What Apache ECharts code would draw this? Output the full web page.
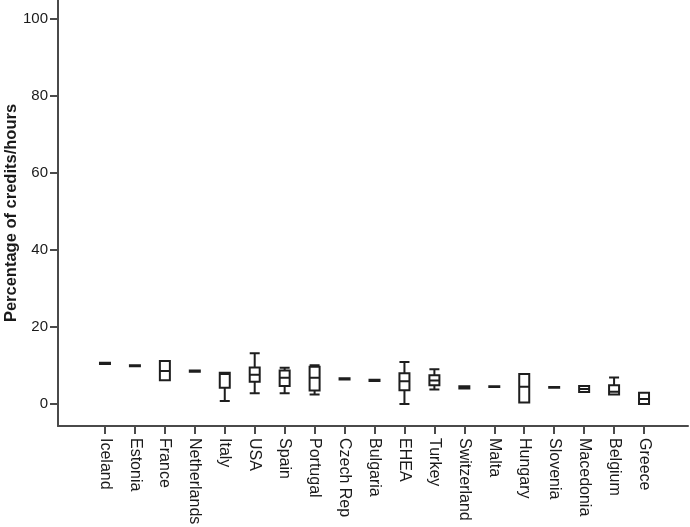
<!DOCTYPE html>
<html>
<head>
<meta charset="utf-8">
<script src="https://cdn.jsdelivr.net/npm/echarts@6/dist/echarts.min.js"></script>
<style>
  html, body { margin: 0; padding: 0; background: #fff; }
  #chart { width: 690px; height: 527px; }
</style>
</head>
<body>
<div id="chart"></div>
<script>
// Static data
const categories = ["Iceland", "Estonia", "France", "Netherlands", "Italy", "USA", "Spain",
  "Portugal", "Czech Rep", "Bulgaria", "EHEA", "Turkey", "Switzerland", "Malta",
  "Hungary", "Slovenia", "Macedonia", "Belgium", "Greece"];
const mins    = [10.4, 9.8, 6.2, 8.4, 0.8, 2.8, 2.8, 2.5, 6.4, 6.0, 0.0, 3.8, 4.0, 4.4, 0.4, 4.2, 3.1, 2.5, 0.0];
const q1s     = [10.4, 9.8, 6.2, 8.4, 4.2, 5.8, 4.7, 3.5, 6.4, 6.0, 3.6, 4.9, 4.0, 4.4, 0.4, 4.2, 3.1, 2.5, 0.0];
const medians = [10.6, 10.0, 8.6, 8.5, 7.8, 7.6, 6.8, 6.8, 6.5, 6.1, 5.9, 6.1, 4.3, 4.5, 4.5, 4.3, 3.9, 3.2, 1.3];
const q3s     = [10.7, 10.1, 11.2, 8.7, 8.1, 9.5, 8.7, 9.7, 6.7, 6.3, 8.0, 7.5, 4.6, 4.6, 7.8, 4.4, 4.7, 4.9, 2.9];
const maxs    = [10.7, 10.1, 11.2, 8.7, 8.1, 13.2, 9.4, 10.1, 6.7, 6.3, 10.9, 9.0, 4.6, 4.6, 7.8, 4.4, 4.7, 6.9, 2.9];
const yTicks  = [0, 20, 40, 60, 80, 100];

const boxData = categories.map((c, i) => [mins[i], q1s[i], medians[i], q3s[i], maxs[i]]);

const axisColor = "#4a4a4a";
const textColor = "#1a1a1a";
const font = "'Liberation Sans', Arial, sans-serif";
const yMin = -5.71;
const yMax = 104.94;

const chart = echarts.init(document.getElementById("chart"));

const option = {
  animation: false,
  textStyle: { fontFamily: font },
  grid: [
    // frame grid: carries the long axis lines and the y scale
    { left: 58, right: 2, top: 0, bottom: 101, outerBoundsMode: "none" },
    // plot grid: the category band for the boxes
    { left: 90, width: 569, top: 0, bottom: 101, outerBoundsMode: "none" },
  ],
  xAxis: [
    {
      gridIndex: 0,
      type: "value",
      min: 0,
      max: 1,
      axisLine: { show: true, onZero: false, lineStyle: { color: axisColor, width: 2 } },
      axisTick: { show: false },
      axisLabel: { show: false },
      splitLine: { show: false },
    },
    {
      gridIndex: 1,
      type: "category",
      data: categories,
      axisLine: { show: false, onZero: false },
      axisTick: {
        show: true,
        alignWithLabel: true,
        length: 8,
        lineStyle: { color: axisColor, width: 2 },
      },
      axisLabel: {
        interval: 0,
        rotate: -90,
        margin: 12,
        fontSize: 16,
        color: textColor,
        fontFamily: font,
      },
      splitLine: { show: false },
    },
  ],
  yAxis: [
    {
      gridIndex: 0,
      type: "value",
      min: yMin,
      max: yMax,
      name: "Percentage of credits/hours",
      nameLocation: "middle",
      nameGap: 38,
      nameMoveOverlap: false,
      nameTextStyle: {
        fontSize: 16.5,
        fontWeight: "bold",
        color: textColor,
        fontFamily: font,
      },
      axisLine: { show: true, onZero: false, lineStyle: { color: axisColor, width: 2 } },
      axisTick: {
        show: true,
        length: 8,
        customValues: yTicks,
        lineStyle: { color: axisColor, width: 2 },
      },
      axisLabel: {
        customValues: yTicks,
        margin: 10,
        fontSize: 15,
        color: textColor,
        fontFamily: font,
      },
      splitLine: { show: false },
    },
    {
      gridIndex: 1,
      type: "value",
      min: yMin,
      max: yMax,
      show: false,
      splitLine: { show: false },
    },
  ],
  series: [
    {
      type: "boxplot",
      xAxisIndex: 1,
      yAxisIndex: 1,
      data: boxData,
      boxWidth: [10, 10],
      itemStyle: {
        color: "#ffffff",
        borderColor: "#1e1e1e",
        borderWidth: 2,
      },
      emphasis: { disabled: true },
    },
  ],
};

chart.setOption(option);
</script>
</body>
</html>
